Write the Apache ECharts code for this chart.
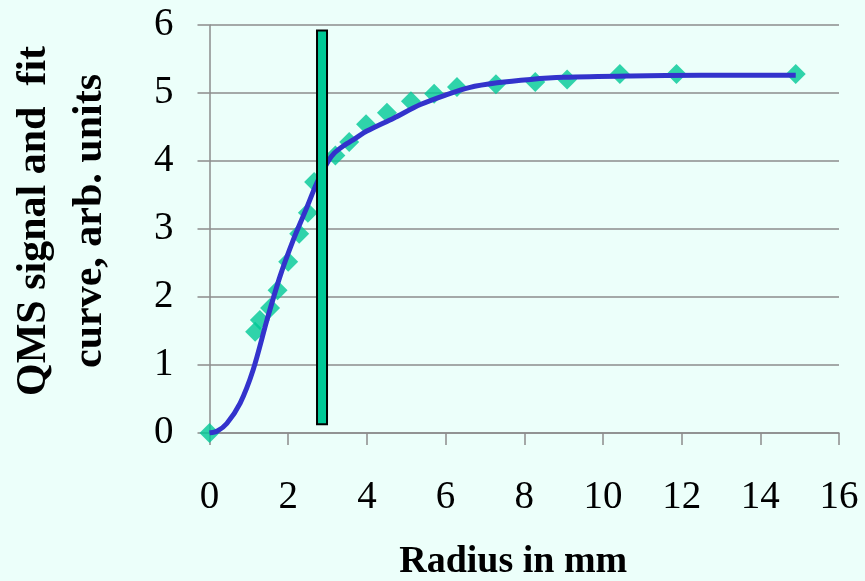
<!DOCTYPE html>
<html>
<head>
<meta charset="utf-8">
<script src="https://cdn.jsdelivr.net/npm/echarts@6/dist/echarts.min.js"></script>
<style>
html,body{margin:0;padding:0;background:#ecfffa;}
#chart{width:865px;height:581px;}
</style>
</head>
<body>
<div id="chart"></div>
<script>
// Measured QMS signal (diamonds)
const signalX = [0, 1.16, 1.28, 1.54, 1.73, 2.0, 2.28, 2.5, 2.66, 3.2, 3.55, 3.98, 4.51, 5.12, 5.71, 6.29, 7.28, 8.28, 9.09, 10.43, 11.87, 14.9];
const signalY = [0, 1.49, 1.66, 1.84, 2.10, 2.52, 2.93, 3.24, 3.69, 4.08, 4.28, 4.54, 4.71, 4.88, 4.99, 5.09, 5.13, 5.16, 5.20, 5.28, 5.28, 5.28];
// Fit curve
const fitX = [0, 0.2, 0.44, 0.78, 1.11, 1.46, 1.79, 2.13, 2.47, 2.73, 3.02, 3.18, 3.4, 3.7, 4.0, 4.68, 5.36, 6.0, 6.6, 7.31, 8.16, 9.0, 10.7, 12.5, 14.9];
const fitY = [0, 0.03, 0.14, 0.44, 0.93, 1.66, 2.30, 2.84, 3.31, 3.68, 4.0, 4.12, 4.22, 4.33, 4.44, 4.63, 4.83, 4.97, 5.08, 5.15, 5.20, 5.23, 5.25, 5.26, 5.26];
// Vertical marker bar: [x, yBottom, yTop]
const markerBar = [[2.86, 0.13, 5.92]];
// Axis ticks
const xTicks = {min: 0, max: 16, interval: 2};
const yTicks = {min: 0, max: 6, interval: 1};
const xTitle = 'Radius in mm';
const yTitle = 'QMS signal and  fit\ncurve, arb. units';

const chart = echarts.init(document.getElementById('chart'), null, {renderer: 'canvas'});
const serif = 'Liberation Serif';
chart.setOption({
  backgroundColor: '#ecfffa',
  animation: false,
  grid: {left: 209.5, right: 26, top: 25, bottom: 148, containLabel: false, outerBoundsMode: 'none'},
  xAxis: {
    type: 'value', min: xTicks.min, max: xTicks.max, interval: xTicks.interval,
    axisLine: {show: true, lineStyle: {color: '#8c8c8c', width: 1.5}},
    axisTick: {show: true, length: 12, inside: false, lineStyle: {color: '#8c8c8c', width: 1.5}},
    splitLine: {show: false},
    axisLabel: {color: '#000', fontFamily: serif, fontSize: 39, margin: 45},
    name: xTitle, nameLocation: 'middle', nameGap: 110, nameMoveOverlap: false,
    nameTextStyle: {color: '#000', fontFamily: serif, fontSize: 38, fontWeight: 'bold', padding: [0, 22, 0, 0]}
  },
  yAxis: {
    type: 'value', min: yTicks.min, max: yTicks.max, interval: yTicks.interval,
    axisLine: {show: true, lineStyle: {color: '#8c8c8c', width: 1.5}},
    axisTick: {show: true, length: 12, inside: false, lineStyle: {color: '#8c8c8c', width: 1.5}},
    splitLine: {show: true, lineStyle: {color: '#8c8c8c', width: 1.5}},
    axisLabel: {color: '#000', fontFamily: serif, fontSize: 39, margin: 36},
    name: yTitle, nameLocation: 'middle', nameGap: 91, nameRotate: 90, nameMoveOverlap: false,
    nameTextStyle: {color: '#000', fontFamily: serif, fontSize: 42, fontWeight: 'bold', lineHeight: 56, align: 'center', padding: [0, 0, 0, 16]}
  },
  series: [
    {
      type: 'custom',
      renderItem: function (params, api) {
        const p1 = api.coord([api.value(0), api.value(2)]);
        const p0 = api.coord([api.value(0), api.value(1)]);
        const w = 10;
        return {
          type: 'rect',
          shape: {x: p1[0] - w / 2, y: p1[1], width: w, height: p0[1] - p1[1]},
          style: {fill: '#00c896', stroke: '#000', lineWidth: 2}
        };
      },
      encode: {x: 0, y: [1, 2]},
      data: markerBar,
      z: 5
    },
    {
      type: 'scatter',
      data: signalX.map((x, i) => [x, signalY[i]]),
      symbol: 'diamond', symbolSize: 20,
      itemStyle: {color: '#00c896'},
      z: 3
    },
    {
      type: 'line',
      data: fitX.map((x, i) => [x, fitY[i]]),
      smooth: 0.3, showSymbol: false,
      lineStyle: {color: '#3333cc', width: 5},
      z: 4
    }
  ]
});
</script>
</body>
</html>
